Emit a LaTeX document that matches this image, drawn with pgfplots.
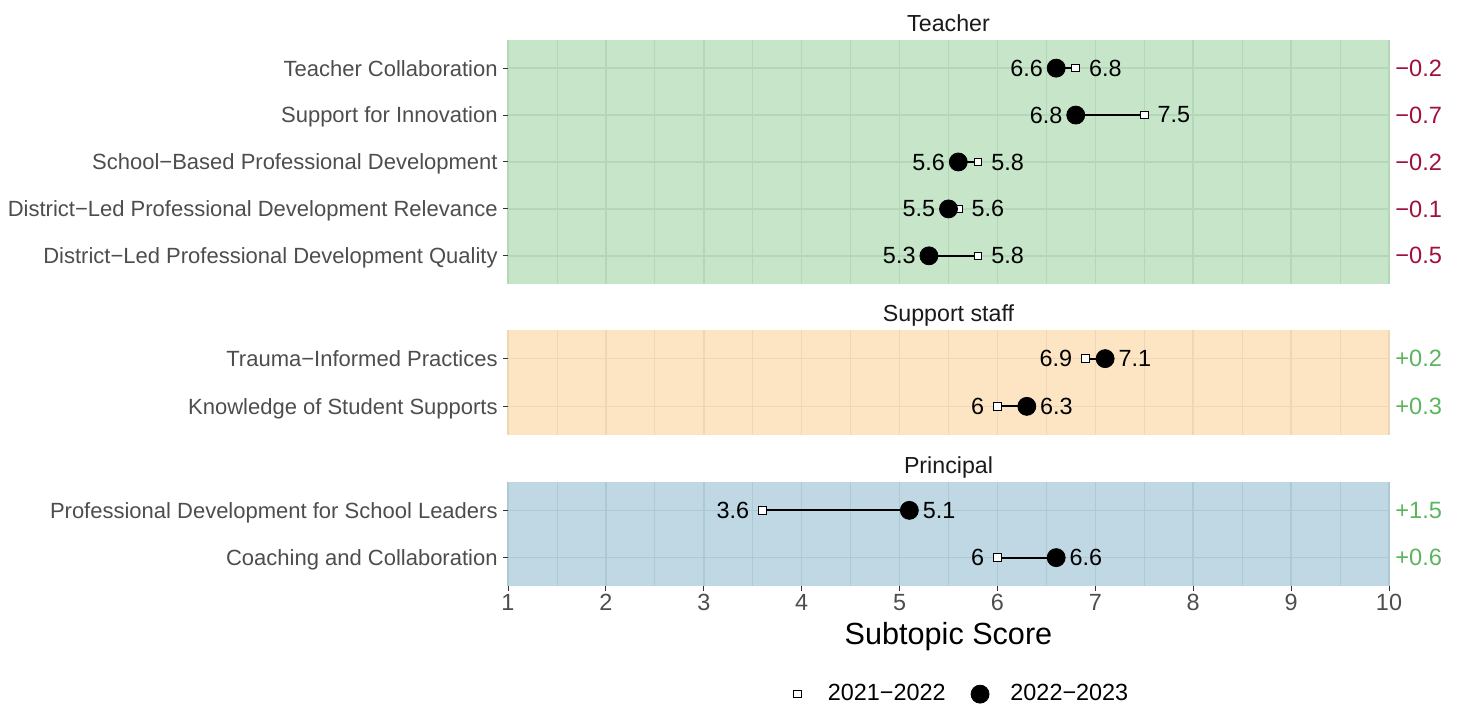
\documentclass[border=0pt]{standalone}
\usepackage{fontspec}
\setmainfont{Liberation Sans}
\usepackage{pgfplots}
\usepackage{pgfplotstable}
\pgfplotsset{compat=1.18}

\definecolor{bgG}{HTML}{C7E5C9}
\definecolor{grG}{HTML}{B4D8B7}
\definecolor{bgO}{HTML}{FDE5C3}
\definecolor{grO}{HTML}{EDD7B6}
\definecolor{bgB}{HTML}{BFD8E3}
\definecolor{grB}{HTML}{ADC9D5}
\definecolor{negc}{HTML}{A0103A}
\definecolor{posc}{HTML}{5CB55C}
\definecolor{lab}{HTML}{4D4D4D}
\definecolor{strip}{HTML}{1A1A1A}

\pgfplotstableread{
y old new lo hi lolab hilab delta
5 6.8 6.6 6.6 6.8 6.6 6.8 −0.2
4 7.5 6.8 6.8 7.5 6.8 7.5 −0.7
3 5.8 5.6 5.6 5.8 5.6 5.8 −0.2
2 5.6 5.5 5.5 5.6 5.5 5.6 −0.1
1 5.8 5.3 5.3 5.8 5.3 5.8 −0.5
}\teacher

\pgfplotstableread{
y old new lo hi lolab hilab delta
2 6.9 7.1 6.9 7.1 6.9 7.1 +0.2
1 6.0 6.3 6.0 6.3 6 6.3 +0.3
}\support

\pgfplotstableread{
y old new lo hi lolab hilab delta
2 3.6 5.1 3.6 5.1 3.6 5.1 +1.5
1 6.0 6.6 6.0 6.6 6 6.6 +0.6
}\principal

\pgfplotsset{
  panel/.style={
    scale only axis, width=440.5pt,
    xmin=1, xmax=10, xtick={1,...,10}, minor x tick num=1,
    xmajorgrids, xminorgrids, ymajorgrids,
    tick align=outside, tick pos=left,
    axis line style={draw=none},
    major tick length=2.5pt, minor tick length=0pt,
    tick style={color=black!80, line width=0.5pt},
    clip=false,
    /pgf/number format/assume math mode=true,
    yticklabel style={font=\fontsize{11}{13}\selectfont, text=lab, inner sep=0pt, anchor=base east, xshift=-2.5pt, yshift=-3.95pt},
    xticklabel style={font=\fontsize{11.7}{14}\selectfont, text=lab, inner sep=0pt, yshift=-1.5pt},
    title style={at={(0.5,1)}, anchor=base, yshift=-2pt, inner sep=0pt, font=\fontsize{11.6}{14}\selectfont, text=strip},
  },
  seg/.style={black, line width=0.9pt, unbounded coords=jump, mark=none, forget plot},
  oldm/.style={only marks, mark=square*, mark size=1.9pt, mark options={fill=white, draw=black, line width=0.5pt}},
  newm/.style={only marks, mark=*, mark size=4.5pt, mark options={fill=black, draw=black}},
  lablo/.style={draw=none, mark=none, forget plot, nodes near coords, point meta=explicit symbolic,
    nodes near coords align=left, nodes near coords style={inner sep=0pt, xshift=-6.5pt, font=\fontsize{11.7}{14}\selectfont, text=black}},
  labhi/.style={draw=none, mark=none, forget plot, nodes near coords, point meta=explicit symbolic,
    nodes near coords align=right, nodes near coords style={inner sep=0pt, xshift=6.5pt, font=\fontsize{11.7}{14}\selectfont, text=black}},
  labd/.style={draw=none, mark=none, forget plot, nodes near coords, point meta=explicit symbolic,
    nodes near coords align=right, nodes near coords style={inner sep=0pt, xshift=3pt, font=\fontsize{11.8}{14}\selectfont, text=#1}},
}

\begin{document}
\begin{tikzpicture}
\useasboundingbox (0,0) rectangle (730pt,-352pt);

% ---------------- Teacher
\begin{axis}[panel, at={(254pt,-20pt)}, anchor=north west, height=122pt,
  ymin=0.4, ymax=5.6, ytick={1,...,5},
  yticklabels={District−Led Professional Development Quality, District−Led Professional Development Relevance, School−Based Professional Development, Support for Innovation, Teacher Collaboration},
  xmajorticks=false,
  axis background/.style={fill=bgG},
  major grid style={grG, line width=0.75pt}, minor grid style={grG, line width=0.4pt},
  title={Teacher}]
\addplot[seg] coordinates {(6.6,5) (6.8,5) (nan,nan) (6.8,4) (7.5,4) (nan,nan) (5.6,3) (5.8,3) (nan,nan) (5.5,2) (5.6,2) (nan,nan) (5.3,1) (5.8,1)};
\addplot[oldm] table[x=old, y=y] {\teacher};
\addplot[newm] table[x=new, y=y] {\teacher};
\addplot[lablo] table[x=lo, y=y, meta=lolab] {\teacher};
\addplot[labhi] table[x=hi, y=y, meta=hilab] {\teacher};
\addplot[labd=negc] table[x expr=10, y=y, meta=delta] {\teacher};
\end{axis}

% ---------------- Support staff
\begin{axis}[panel, at={(254pt,-165pt)}, anchor=north west, height=52.5pt,
  ymin=0.4, ymax=2.6, ytick={1,2},
  yticklabels={Knowledge of Student Supports, Trauma−Informed Practices},
  xmajorticks=false,
  axis background/.style={fill=bgO},
  major grid style={grO, line width=0.75pt}, minor grid style={grO, line width=0.4pt},
  title={Support staff}]
\addplot[seg] coordinates {(6.9,2) (7.1,2) (nan,nan) (6.0,1) (6.3,1)};
\addplot[oldm] table[x=old, y=y] {\support};
\addplot[newm] table[x=new, y=y] {\support};
\addplot[lablo] table[x=lo, y=y, meta=lolab] {\support};
\addplot[labhi] table[x=hi, y=y, meta=hilab] {\support};
\addplot[labd=posc] table[x expr=10, y=y, meta=delta] {\support};
\end{axis}

% ---------------- Principal
\begin{axis}[panel, at={(254pt,-241pt)}, anchor=north west, height=52pt,
  ymin=0.4, ymax=2.6, ytick={1,2},
  yticklabels={Coaching and Collaboration, Professional Development for School Leaders},
  axis background/.style={fill=bgB},
  major grid style={grB, line width=0.75pt}, minor grid style={grB, line width=0.4pt},
  title={Principal},
  xlabel={Subtopic Score},
  xlabel style={at={(axis description cs:0.5,0)}, anchor=base, yshift=-29.5pt, inner sep=0pt, font=\fontsize{15.3}{18}\selectfont, text=black},
  legend image code/.code={\path (-8pt,0pt) (8pt,0pt); \draw[#1] plot coordinates {(0pt,0pt)};},
  legend style={at={(0.507,-1.04)}, anchor=center, draw=none, fill=none, legend columns=2,
    font=\fontsize{11.7}{14}\selectfont, nodes={inner sep=0pt},
    /tikz/every odd column/.append style={column sep=7pt},
    /tikz/every even column/.append style={column sep=9pt}},
  ]
\addplot[seg] coordinates {(3.6,2) (5.1,2) (nan,nan) (6.0,1) (6.6,1)};
\addplot[oldm] table[x=old, y=y] {\principal};
\addlegendentry{2021−2022}
\addplot[newm] table[x=new, y=y] {\principal};
\addlegendentry{2022−2023}
\addplot[lablo] table[x=lo, y=y, meta=lolab] {\principal};
\addplot[labhi] table[x=hi, y=y, meta=hilab] {\principal};
\addplot[labd=posc] table[x expr=10, y=y, meta=delta] {\principal};
\end{axis}
\end{tikzpicture}
\end{document}
